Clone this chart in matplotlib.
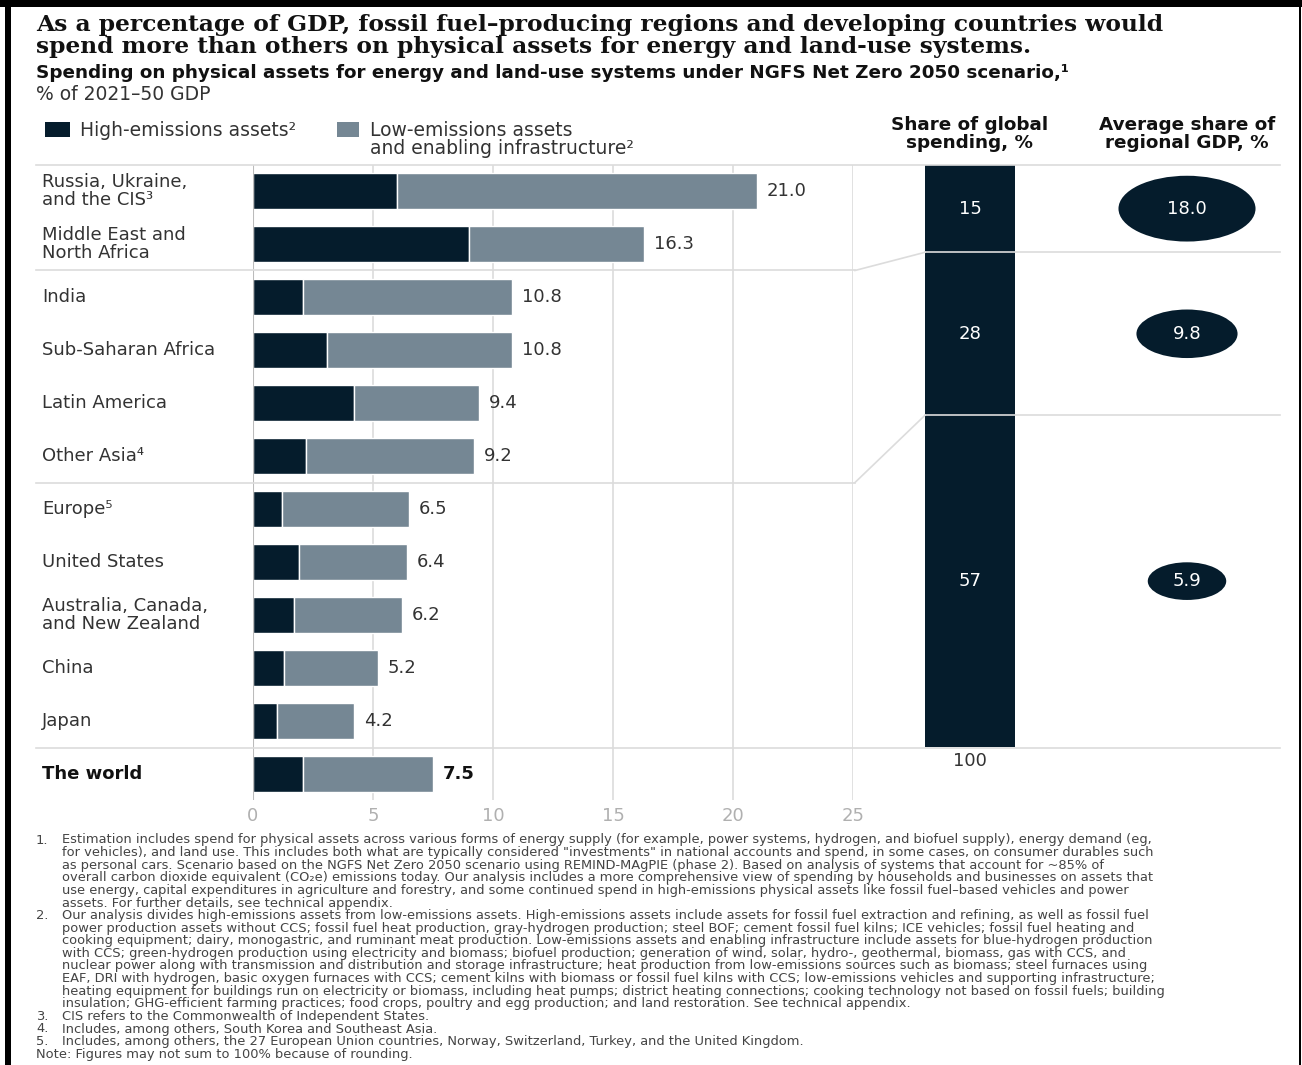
import numpy as np
import matplotlib
matplotlib.use("Agg")
import matplotlib.pyplot as plt
from matplotlib.lines import Line2D
from matplotlib.patches import Rectangle, Ellipse
import matplotlib.transforms as mtransforms

# datos del grafico
regions = ["Russia, Ukraine,\nand the CIS³", "Middle East and\nNorth Africa", "India",
           "Sub-Saharan Africa", "Latin America", "Other Asia⁴", "Europe⁵", "United States",
           "Australia, Canada,\nand New Zealand", "China", "Japan", "The world"]
high_em = [6.0, 9.0, 2.1, 3.1, 4.2, 2.2, 1.2, 1.9, 1.7, 1.3, 1.0, 2.1]
low_em = [15.0, 7.3, 8.7, 7.7, 5.2, 7.0, 5.3, 4.5, 4.5, 3.9, 3.2, 5.4]
totals = [21.0, 16.3, 10.8, 10.8, 9.4, 9.2, 6.5, 6.4, 6.2, 5.2, 4.2, 7.5]
xticks = [0, 5, 10, 15, 20, 25]

group_share = [15, 28, 57]
group_gdp = [18.0, 9.8, 5.9]
group_breaks = [1.5, 5.5]

DARK = "#051c2c"
GREY = "#758794"
GRID = "#dcdcdc"
TXT = "#333333"

W, H = 1302, 1065
fig = plt.figure(figsize=(W / 100, H / 100), dpi=100)
fig.patch.set_facecolor("white")


def fx(x):
    return x / W


def fy(y):
    return 1 - y / H


def ftext(x, y, s, **kw):
    kw.setdefault("va", "center")
    kw.setdefault("color", TXT)
    fig.text(fx(x), fy(y), s, **kw)


def fline(x0, y0, x1, y1, color=GRID, lw=1.2):
    fig.add_artist(Line2D([fx(x0), fx(x1)], [fy(y0), fy(y1)], transform=fig.transFigure,
                          color=color, lw=lw, zorder=5))


# marco
fig.add_artist(Rectangle((fx(0), fy(7)), 1, 7 / H, transform=fig.transFigure, color="black", lw=0))
fig.add_artist(Rectangle((fx(5), 0), 6 / W, 1, transform=fig.transFigure, color="black", lw=0))
fig.add_artist(Rectangle((fx(1299), 0), 2 / W, 1, transform=fig.transFigure, color="black", lw=0))

# titulos
ftext(36, 25, "As a percentage of GDP, fossil fuel–producing regions and developing countries would",
      family="DejaVu Serif", weight="bold", size=16.8, color="#111111")
ftext(36, 47, "spend more than others on physical assets for energy and land-use systems.",
      family="DejaVu Serif", weight="bold", size=16.8, color="#111111")
ftext(36, 73, "Spending on physical assets for energy and land-use systems under NGFS Net Zero 2050 scenario,¹",
      weight="bold", size=13.2, color="#111111")
ftext(36, 95, "% of 2021–50 GDP", size=13.5)

# leyenda
fig.add_artist(Rectangle((fx(45), fy(137)), 25 / W, 15 / H, transform=fig.transFigure, color=DARK, lw=0))
ftext(80, 130, "High-emissions assets²", size=13.5)
fig.add_artist(Rectangle((fx(337), fy(137)), 22 / W, 15 / H, transform=fig.transFigure, color=GREY, lw=0))
ftext(370, 130, "Low-emissions assets", size=13.5)
ftext(370, 148, "and enabling infrastructure²", size=13.5)

ftext(970, 134, "Share of global\nspending, %", weight="bold", size=13.2, ha="center",
      color="#111111", linespacing=1.0)
ftext(1187, 134, "Average share of\nregional GDP, %", weight="bold", size=13.2, ha="center",
      color="#111111", linespacing=1.0)

# grafico de barras
top_px, bot_px = 165, 800
ylim_top, ylim_bot = -0.49, 11.49
ax = fig.add_axes([fx(253), fy(bot_px), 600 / W, (bot_px - top_px) / H])
rows = np.arange(len(regions))
ax.barh(rows, high_em, height=0.68, color=DARK, edgecolor="white", linewidth=1, zorder=3)
ax.barh(rows, low_em, left=high_em, height=0.68, color=GREY, edgecolor="white", linewidth=1, zorder=3)
for i, t in enumerate(totals):
    last = i == len(totals) - 1
    ax.text(t + 0.42, i, f"{t:.1f}", va="center", ha="left", size=13,
            color="#111111" if last else TXT, weight="bold" if last else "normal")
ax.set_xlim(0, 25)
ax.set_ylim(ylim_bot, ylim_top)
ax.set_xticks(xticks)
ax.set_yticks([])
ax.grid(axis="x", color=GRID, lw=1.2, zorder=0)
ax.axvline(0, color="#bbbbbb", lw=1.5, zorder=4)
for s in ax.spines.values():
    s.set_visible(False)
ax.tick_params(axis="x", length=0, labelsize=13, labelcolor="#b0b0b0", pad=5)

# etiquetas de regiones
trans = mtransforms.blended_transform_factory(fig.transFigure, ax.transData)
for i, r in enumerate(regions):
    last = i == len(regions) - 1
    ax.text(fx(42), i, r, transform=trans, va="center", ha="left", size=13,
            color="#111111" if last else TXT, weight="bold" if last else "normal",
            linespacing=1.0)


def row_px(r):
    return top_px + (r - ylim_top) / (ylim_bot - ylim_top) * (bot_px - top_px)


# barra de participacion global
sh_top, sh_bot = 165, 747
sax = fig.add_axes([fx(925), fy(sh_bot), 90 / W, (sh_bot - sh_top) / H])
cum = np.concatenate([[0], np.cumsum(group_share)])
for k, v in enumerate(group_share):
    sax.bar(0, v, bottom=cum[k], width=1, color=DARK, lw=0)
    sax.text(0, cum[k] + v / 2, str(v), color="white", ha="center", va="center", size=13)
sax.set_xlim(-0.5, 0.5)
sax.set_ylim(100, 0)
sax.axis("off")
ftext(970, 761, "100", ha="center", size=13)


def share_px(c):
    return sh_top + c / 100 * (sh_bot - sh_top)


# lineas horizontales
fline(36, top_px, 1280, top_px)
fline(36, row_px(10.5), 1280, row_px(10.5))
for k, b in enumerate(group_breaks):
    yb = row_px(b)
    ys = share_px(cum[k + 1])
    fline(36, yb, 855, yb)
    fline(855, yb, 925, ys)
    fline(925, ys, 1280, ys)

# burbujas
bax = fig.add_axes([fx(1080), fy(sh_bot), 210 / W, (sh_bot - sh_top) / H])
bax.set_xlim(1080, 1290)
bax.set_ylim(100, 0)
bax.axis("off")
px_per_unit = (sh_bot - sh_top) / 100
for k, g in enumerate(group_gdp):
    wpx = 32.3 * np.sqrt(g)
    hpx = wpx * 0.48
    yc = cum[k] + group_share[k] / 2
    bax.add_patch(Ellipse((1187, yc), wpx, hpx / px_per_unit, color=DARK, lw=0))
    bax.text(1187, yc, f"{g:.1f}", color="white", ha="center", va="center", size=13)

# notas al pie
notes = [
    ("1.", "Estimation includes spend for physical assets across various forms of energy supply (for example, power systems, hydrogen, and biofuel supply), energy demand (eg,"),
    ("", "for vehicles), and land use. This includes both what are typically considered \"investments\" in national accounts and spend, in some cases, on consumer durables such"),
    ("", "as personal cars. Scenario based on the NGFS Net Zero 2050 scenario using REMIND-MAgPIE (phase 2). Based on analysis of systems that account for ~85% of"),
    ("", "overall carbon dioxide equivalent (CO₂e) emissions today. Our analysis includes a more comprehensive view of spending by households and businesses on assets that"),
    ("", "use energy, capital expenditures in agriculture and forestry, and some continued spend in high-emissions physical assets like fossil fuel–based vehicles and power"),
    ("", "assets. For further details, see technical appendix."),
    ("2.", "Our analysis divides high-emissions assets from low-emissions assets. High-emissions assets include assets for fossil fuel extraction and refining, as well as fossil fuel"),
    ("", "power production assets without CCS; fossil fuel heat production, gray-hydrogen production; steel BOF; cement fossil fuel kilns; ICE vehicles; fossil fuel heating and"),
    ("", "cooking equipment; dairy, monogastric, and ruminant meat production. Low-emissions assets and enabling infrastructure include assets for blue-hydrogen production"),
    ("", "with CCS; green-hydrogen production using electricity and biomass; biofuel production; generation of wind, solar, hydro-, geothermal, biomass, gas with CCS, and"),
    ("", "nuclear power along with transmission and distribution and storage infrastructure; heat production from low-emissions sources such as biomass; steel furnaces using"),
    ("", "EAF, DRI with hydrogen, basic oxygen furnaces with CCS; cement kilns with biomass or fossil fuel kilns with CCS; low-emissions vehicles and supporting infrastructure;"),
    ("", "heating equipment for buildings run on electricity or biomass, including heat pumps; district heating connections; cooking technology not based on fossil fuels; building"),
    ("", "insulation; GHG-efficient farming practices; food crops, poultry and egg production; and land restoration. See technical appendix."),
    ("3.", "CIS refers to the Commonwealth of Independent States."),
    ("4.", "Includes, among others, South Korea and Southeast Asia."),
    ("5.", "Includes, among others, the 27 European Union countries, Norway, Switzerland, Turkey, and the United Kingdom."),
]
for j, (num, line) in enumerate(notes):
    y = 840 + j * 12.6
    if num:
        ftext(36, y, num, size=9.4, color="#444444")
    ftext(62, y, line, size=9.4, color="#444444")
ftext(36, 840 + len(notes) * 12.6, "Note: Figures may not sum to 100% because of rounding.", size=9.4, color="#444444")

plt.savefig("out.png", dpi=100)
